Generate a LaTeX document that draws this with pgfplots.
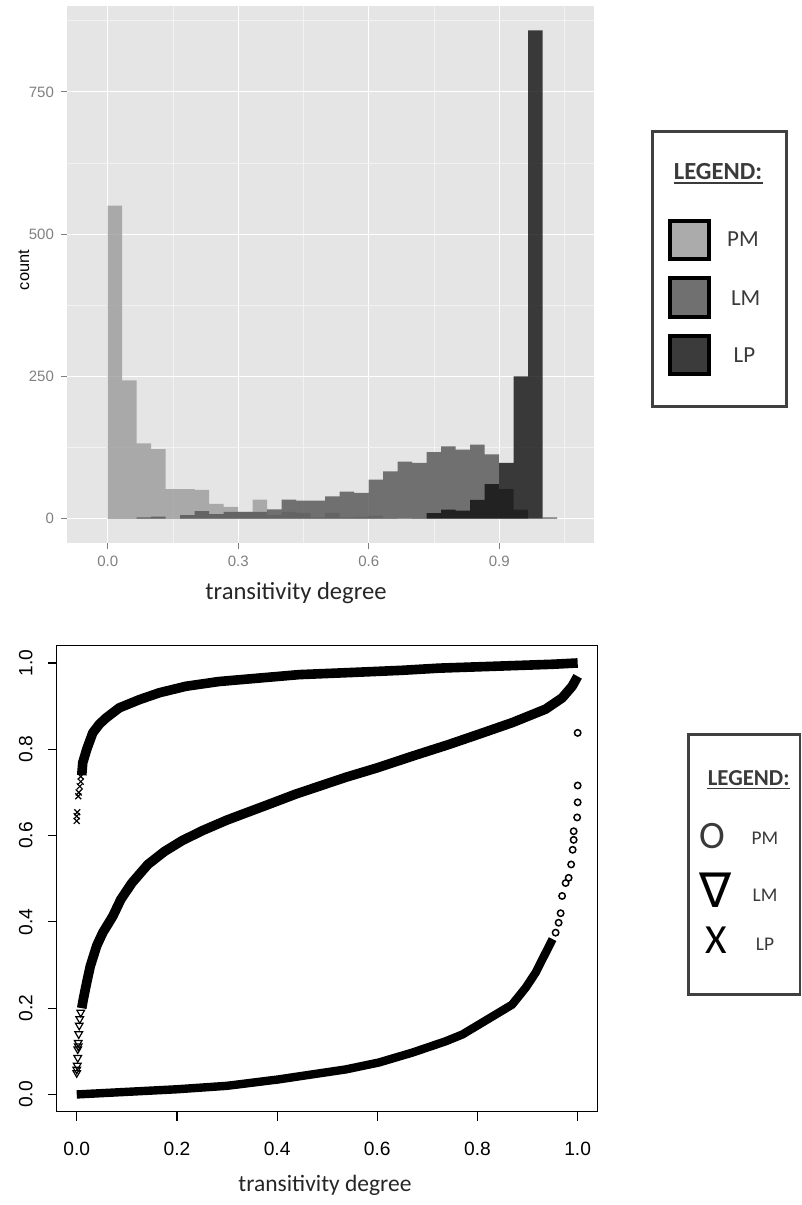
\documentclass[border=0pt]{standalone}
\usepackage{fontspec}
\setmainfont{Liberation Sans}
\newfontfamily\calib{Carlito}
\newfontfamily\dejavu{DejaVu Sans}
\usepackage{pgfplots}
\usepackage{pgfplotstable}
\pgfplotsset{compat=1.18}

\definecolor{ggbg}{HTML}{E5E5E5}
\definecolor{ggminor}{HTML}{F2F2F2}
\definecolor{ggtick}{HTML}{7F7F7F}
\definecolor{pmfill}{HTML}{9B9B9B}
\definecolor{lmfill}{HTML}{535353}
\definecolor{lpfill}{HTML}{0F0F0F}
\definecolor{legtext}{HTML}{3A3A3A}
\definecolor{legframe}{HTML}{404040}

% histogram counts, bins of width 1/30 (left edge x)
\pgfplotstableread{
x        pm    lm    lp
0.000000 550   0     0
0.033333 243   0     0
0.066667 132   2     0
0.100000 122   3.5   0
0.133333 52    0     0
0.166667 52    6     0
0.200000 50.5  13    0
0.233333 26    8     0
0.266667 20.5  12    0
0.300000 12    12    0
0.333333 33.5  12    0
0.366667 6     16.4  0
0.400000 12    33.5  0
0.433333 10    31.7  0
0.466667 2     31.7  0
0.500000 10    39    0
0.533333 2     47.5  0
0.566667 3     45    0
0.600000 4.7   68.7  0
0.633333 1     83    0
0.666667 0     100   0
0.700000 1     98    0
0.733333 0     117   9.4
0.766667 0     127   15.8
0.800000 0     121   14
0.833333 0     130   33
0.866667 0     113   60.4
0.900000 0     51.6  98
0.933333 0     15.8  250
0.966667 0     0     858
1.000000 0     2     0
1.033333 0     0     0
}\histdata

% sorted curves, lower panel
\pgfplotstableread{
x     y
0.000 0.000
0.050 0.003
0.100 0.006
0.200 0.012
0.300 0.020
0.404 0.035
0.444 0.042
0.537 0.058
0.603 0.074
0.670 0.097
0.736 0.123
0.770 0.139
0.803 0.162
0.836 0.185
0.869 0.208
0.896 0.247
0.916 0.282
0.936 0.328
0.950 0.360
}\pmband
\pgfplotstableread{
x     y
0.956 0.375
0.962 0.398
0.966 0.420
0.969 0.460
0.976 0.490
0.982 0.502
0.987 0.533
0.990 0.567
0.992 0.590
0.992 0.610
0.999 0.642
1.000 0.677
1.000 0.716
1.000 0.838
}\pmpts
\pgfplotstableread{
x     y
0.010 0.200
0.013 0.220
0.020 0.260
0.027 0.297
0.040 0.345
0.052 0.375
0.072 0.413
0.088 0.452
0.110 0.490
0.142 0.533
0.175 0.563
0.210 0.588
0.250 0.611
0.300 0.636
0.378 0.670
0.437 0.696
0.537 0.735
0.600 0.757
0.670 0.784
0.740 0.810
0.803 0.835
0.870 0.862
0.936 0.893
0.969 0.919
0.989 0.946
1.000 0.969
}\lmband
\pgfplotstableread{
x     y
0.000 0.050
0.000 0.058
0.001 0.067
0.002 0.085
0.002 0.105
0.003 0.112
0.003 0.120
0.004 0.140
0.005 0.160
0.006 0.175
0.008 0.190
}\lmpts
\pgfplotstableread{
x     y
0.010 0.740
0.012 0.769
0.020 0.800
0.032 0.838
0.045 0.858
0.059 0.873
0.085 0.896
0.125 0.915
0.165 0.931
0.218 0.946
0.284 0.957
0.364 0.965
0.444 0.973
0.550 0.978
0.650 0.983
0.723 0.988
0.850 0.993
0.950 0.997
1.000 1.000
}\lpband
\pgfplotstableread{
x     y
0.000 0.634
0.000 0.645
0.001 0.654
0.003 0.691
0.004 0.700
0.006 0.714
0.008 0.725
0.008 0.737
}\lppts

\begin{document}
\begin{tikzpicture}
\useasboundingbox (0,0) rectangle (401pt,-602.5pt);

% ---------- top: histogram ----------
\begin{axis}[
  at={(33.5pt,-3pt)}, anchor=north west,
  scale only axis, width=263.5pt, height=268.5pt,
  xmin=-0.0936, xmax=1.118, ymin=-42.9, ymax=900.9,
  axis background/.style={fill=ggbg},
  axis line style={draw=none},
  xtick={0,0.3,0.6,0.9}, ytick={0,250,500,750},
  minor xtick={0.15,0.45,0.75,1.05}, minor ytick={125,375,625,875},
  grid=both,
  major grid style={white, line width=0.6pt},
  minor grid style={ggminor, line width=0.4pt},
  tick pos=left, tick align=outside,
  major tick length=3pt, minor tick length=0pt,
  tick style={ggtick, line width=0.6pt},
  ticklabel style={font=\fontsize{7.5}{9}\selectfont, text=ggtick},
  xticklabel style={/pgf/number format/fixed, /pgf/number format/fixed zerofill,
    /pgf/number format/precision=1},
  yticklabel style={/pgf/number format/fixed},
  scaled ticks=false,
  /pgf/number format/assume math mode=true,
]
\addplot[ybar interval, draw=none, fill=pmfill, fill opacity=0.8] table[x=x, y=pm] {\histdata};
\addplot[ybar interval, draw=none, fill=lmfill, fill opacity=0.8] table[x=x, y=lm] {\histdata};
\addplot[ybar interval, draw=none, fill=lpfill, fill opacity=0.8] table[x=x, y=lp] {\histdata};
\end{axis}

\node[rotate=90, font=\fontsize{8.2}{10}\selectfont] at (12pt,-135pt) {count};
\node[anchor=base, font=\calib\fontsize{12.3}{14}\selectfont, text=black!85] at (148pt,-299.5pt) {transitivity degree};

% legend, top
\draw[legframe, line width=1.5pt] (326.35pt,-65.85pt) rectangle (393.35pt,-203pt);
\node[anchor=base, inner sep=0pt, font=\calib\bfseries\fontsize{12.3}{14}\selectfont, text=legtext] (lg1) at (359pt,-89.65pt) {LEGEND:};
\draw[legtext, line width=0.9pt] ([yshift=-1.9pt]lg1.base west) -- ([yshift=-1.9pt]lg1.base east);
\draw[black, line width=2pt, fill=black!33] (335.15pt,-110.4pt) rectangle (354.35pt,-129.6pt);
\draw[black, line width=2pt, fill=black!56] (335.15pt,-139.15pt) rectangle (354.35pt,-158.35pt);
\draw[black, line width=2pt, fill=black!77] (335.15pt,-167.9pt) rectangle (354.35pt,-187.1pt);
\node[anchor=base, font=\calib\fontsize{11.5}{13}\selectfont, text=legtext] at (371.5pt,-123pt) {PM};
\node[anchor=base, font=\calib\fontsize{11.5}{13}\selectfont, text=legtext] at (372.85pt,-152.5pt) {LM};
\node[anchor=base, font=\calib\fontsize{11.5}{13}\selectfont, text=legtext] at (372.25pt,-181.35pt) {LP};

% ---------- bottom: sorted values ----------
\begin{axis}[
  at={(28.35pt,-322.85pt)}, anchor=north west,
  scale only axis, width=270.5pt, height=233pt,
  xmin=-0.04, xmax=1.04, ymin=-0.04, ymax=1.04,
  axis line style={black, line width=0.7pt},
  xtick={0,0.2,0.4,0.6,0.8,1.0}, ytick={0,0.2,0.4,0.6,0.8,1.0},
  tick pos=left, tick align=outside, major tick length=4.5pt,
  tick style={black, line width=0.6pt},
  ticklabel style={font=\fontsize{9.6}{11}\selectfont,
    /pgf/number format/fixed, /pgf/number format/fixed zerofill,
    /pgf/number format/precision=1},
  yticklabel style={rotate=90, anchor=south},
  xticklabel shift=7pt, yticklabel shift=4pt,
  /pgf/number format/assume math mode=true,
]
\addplot[black, line width=4.2pt, line join=round] table {\pmband};
\addplot[only marks, mark=o, mark size=1.6pt, mark options={black, line width=0.75pt}] table {\pmpts};
\addplot[black, line width=4.8pt, line join=round] table {\lmband};
\addplot[only marks, mark=triangle, mark size=2.2pt, mark options={black, rotate=180, line width=0.6pt}] table {\lmpts};
\addplot[black, line width=4.8pt, line join=round] table {\lpband};
\addplot[only marks, mark=x, mark size=2.1pt, mark options={black, line width=0.6pt}] table {\lppts};
\end{axis}

\node[anchor=base, font=\calib\fontsize{11.75}{14}\selectfont, text=black!85] at (162.5pt,-595.5pt) {transitivity degree};

% legend, bottom
\draw[legframe, line width=1.35pt] (344.25pt,-367.25pt) rectangle (400pt,-497.25pt);
\node[anchor=base, inner sep=0pt, font=\calib\bfseries\fontsize{11.4}{13}\selectfont, text=legtext] (lg2) at (374.35pt,-392.5pt) {LEGEND:};
\draw[legtext, line width=0.85pt] ([yshift=-1.8pt]lg2.base west) -- ([yshift=-1.8pt]lg2.base east);
\node[anchor=base, inner sep=0pt, font=\calib\fontsize{19.4}{22}\selectfont, text=legtext] at (356.25pt,-424.15pt) {O};
\node[anchor=base, inner sep=0pt, font=\dejavu\fontsize{24}{28}\selectfont] at (358pt,-453.8pt) {∇};
\node[anchor=base, inner sep=0pt, font=\calib\fontsize{20.7}{24}\selectfont] at (358pt,-476.65pt) {X};
\node[anchor=base, font=\calib\fontsize{9.7}{12}\selectfont, text=legtext] at (382.5pt,-422.15pt) {PM};
\node[anchor=base, font=\calib\fontsize{9.7}{12}\selectfont, text=legtext] at (382.5pt,-450.85pt) {LM};
\node[anchor=base, font=\calib\fontsize{9.7}{12}\selectfont, text=legtext] at (382.5pt,-475pt) {LP};
\end{tikzpicture}
\end{document}
